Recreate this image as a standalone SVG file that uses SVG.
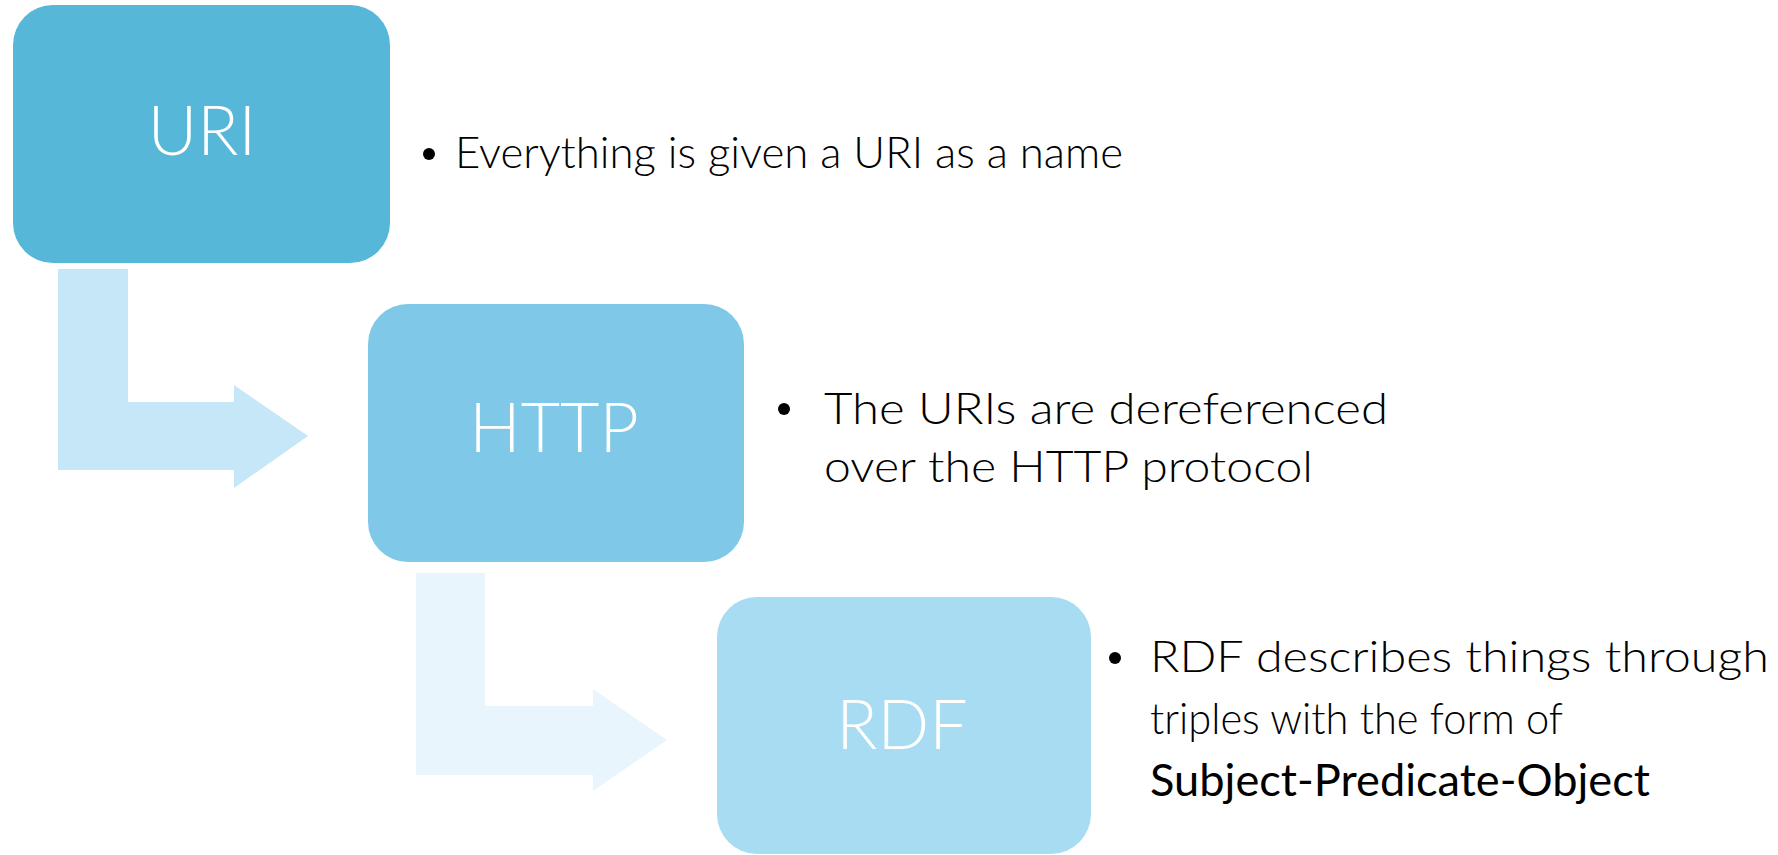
<svg xmlns="http://www.w3.org/2000/svg" width="1778" height="855" viewBox="0 0 1778 855">
<style>
.box-label{font-family:Lato,"Open Sans","Liberation Sans",sans-serif;font-weight:300;font-size:68px;fill:#ffffff;text-anchor:middle}
.bullet{font-family:Lato,"Open Sans","Liberation Sans",sans-serif;font-weight:300;font-size:44px;fill:#000000}
.strong{font-weight:400}
.dot{fill:#000000}
</style>
<rect width="1778" height="855" fill="#ffffff"/>
<g id="connectors">
<path id="arrow-uri-http" d="M58,269 H128 V402 H234 V385 L308,436 L234,488 V470 H58 Z" fill="#C6E7F7"/>
<path id="arrow-http-rdf" d="M416,573 H485 V706 H593 V689 L667,740 L593,791 V775 H416 Z" fill="#E9F5FC"/>
</g>
<g id="node-uri">
<rect x="13" y="5" width="377" height="258" rx="40" ry="40" fill="#56B7D9"/>
<text class="box-label" x="202" y="155">URI</text>
</g>
<g id="node-http">
<rect x="368" y="304" width="376" height="258" rx="40" ry="40" fill="#7FC8E8"/>
<text class="box-label" x="554" y="452">HTTP</text>
</g>
<g id="node-rdf">
<rect x="717" y="597" width="374" height="257" rx="40" ry="40" fill="#A7DCF3"/>
<text class="box-label" x="902" y="749">RDF</text>
</g>
<g id="text-uri">
<circle class="dot" cx="429" cy="154" r="6"/>
<text class="bullet" x="455" y="168" textLength="668" lengthAdjust="spacingAndGlyphs">Everything is given a URI as a name</text>
</g>
<g id="text-http">
<circle class="dot" cx="784" cy="409" r="6"/>
<text class="bullet" x="824" y="424" textLength="564" lengthAdjust="spacingAndGlyphs">The URIs are dereferenced</text>
<text class="bullet" x="824" y="482" textLength="489" lengthAdjust="spacingAndGlyphs">over the HTTP protocol</text>
</g>
<g id="text-rdf">
<circle class="dot" cx="1115" cy="658" r="6"/>
<text class="bullet" x="1150" y="672" textLength="619" lengthAdjust="spacingAndGlyphs">RDF describes things through</text>
<text class="bullet" x="1150" y="734" textLength="413" lengthAdjust="spacingAndGlyphs">triples with the form of</text>
<text class="bullet strong" x="1150" y="796" textLength="500" lengthAdjust="spacingAndGlyphs">Subject-Predicate-Object</text>
</g>
</svg>
